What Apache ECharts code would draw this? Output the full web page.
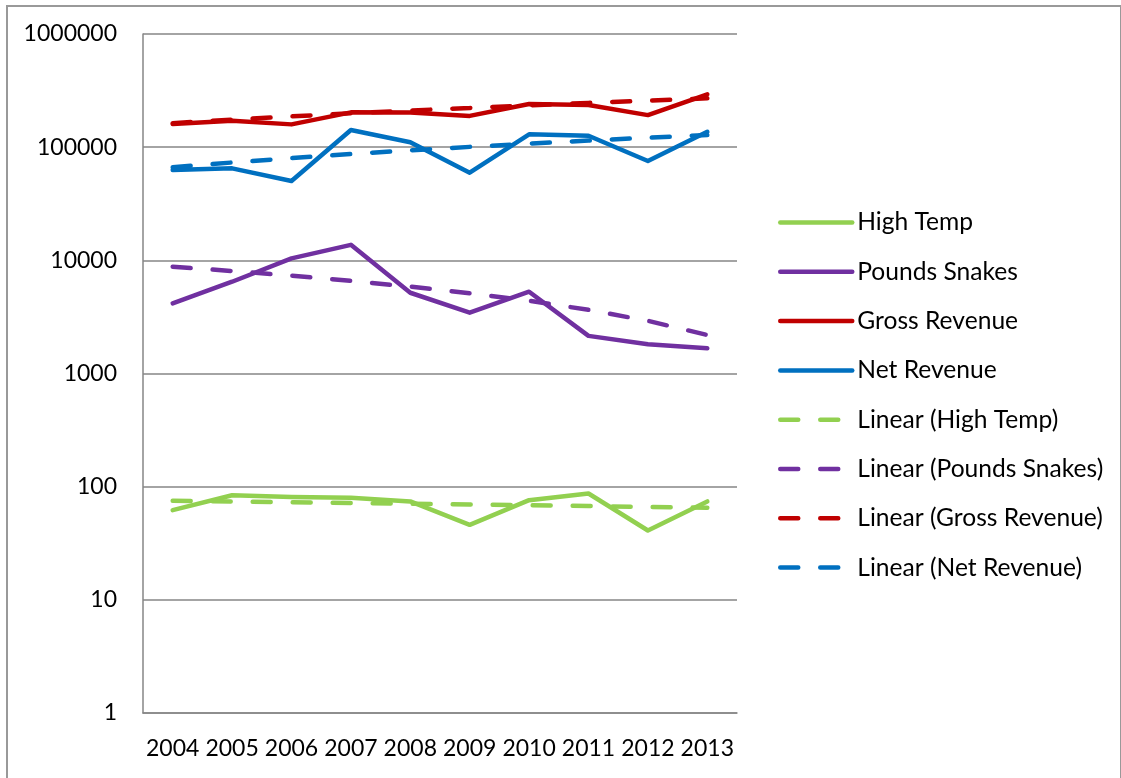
<!DOCTYPE html>
<html>
<head>
<meta charset="utf-8">
<title>Snakes chart</title>
<script src="https://cdn.jsdelivr.net/npm/echarts@6/dist/echarts.min.js"></script>
<style>
  body { margin: 0; background: #fff; }
  #wrap { position: relative; width: 1121px; height: 778px; overflow: hidden; }
  #frame { position: absolute; left: 6px; top: 5px; width: 1112px; height: 800px; border: 2px solid #999; }
  #chart { position: absolute; left: 0; top: 0; width: 1121px; height: 778px; }
</style>
</head>
<body>
<div id="wrap">
  <div id="frame"></div>
  <div id="chart"></div>
</div>
<script>
// categories
var years = ['2004', '2005', '2006', '2007', '2008', '2009', '2010', '2011', '2012', '2013'];

// series values
var highTemp      = [62, 84, 81, 80, 74, 46, 76, 87, 41, 74];
var poundsSnakes  = [4170, 6470, 10400, 13700, 5170, 3450, 5280, 2150, 1810, 1670];
var grossRevenue  = [160000, 171000, 159000, 203000, 202000, 189000, 241000, 236000, 192000, 293000];
var netRevenue    = [62800, 65000, 50200, 141800, 110400, 59500, 129900, 126200, 75400, 136900];

// trendlines
var trendHighTemp = [75, 73.9, 72.8, 71.7, 70.6, 69.6, 68.5, 67.4, 66.3, 65.2];
var trendSnakes   = [8790, 8050, 7320, 6590, 5850, 5120, 4390, 3650, 2920, 2190];
var trendGross    = [163000, 175000, 187000, 199000, 211000, 222000, 234000, 246000, 258000, 270000];
var trendNet      = [66400, 73200, 80100, 86900, 93800, 100600, 107500, 114300, 121200, 128000];

var green = '#92D050', purple = '#7030A0', red = '#C00000', blue = '#0070C0';
var font = 'Lato, "Open Sans", sans-serif';

function solid(name, color, data) {
  return {
    name: name, type: 'line', data: data, symbol: 'none', smooth: false,
    lineStyle: { color: color, width: 4.5, cap: 'round', join: 'round' },
    itemStyle: { color: color }
  };
}
function dashed(name, color, data) {
  return {
    name: name, type: 'line', data: data, symbol: 'none', smooth: false,
    lineStyle: { color: color, width: 4.5, type: [18, 22], cap: 'round' },
    itemStyle: { color: color }
  };
}

var chart = echarts.init(document.getElementById('chart'));
chart.setOption({
  animation: false,
  grid: { left: 143, right: 384, top: 34, bottom: 65, containLabel: false },
  legend: {
    orient: 'vertical',
    left: 778,
    top: 210,
    padding: 0,
    itemWidth: 72,
    itemHeight: 14,
    itemGap: 24.3,
    icon: 'inherit',
    itemStyle: { opacity: 0 }, // hide the dot in the middle of the legend line
    lineStyle: { width: 4.5, cap: 'round' },
    textStyle: { fontFamily: font, fontSize: 24.6, color: '#000', lineHeight: 24 },
    data: ['High Temp', 'Pounds Snakes', 'Gross Revenue', 'Net Revenue',
           'Linear (High Temp)', 'Linear (Pounds Snakes)', 'Linear (Gross Revenue)', 'Linear (Net Revenue)']
  },
  xAxis: {
    type: 'category',
    data: years,
    boundaryGap: true,
    axisLine: { lineStyle: { color: '#868686', width: 1.5 } },
    axisTick: { show: false },
    axisLabel: { color: '#000', fontFamily: font, fontSize: 23, margin: 24, interval: 0 }
  },
  yAxis: {
    type: 'log',
    logBase: 10,
    min: 1,
    max: 1000000,
    interval: 1,
    axisLine: { show: true, lineStyle: { color: '#868686', width: 1.5 } },
    axisTick: { show: false },
    splitLine: { lineStyle: { color: '#868686', width: 1.5 } },
    axisLabel: {
      color: '#000', fontFamily: font, fontSize: 23, margin: 26,
      formatter: function (v) { return String(Math.round(v)); }
    }
  },
  series: [
    solid('High Temp', green, highTemp),
    solid('Pounds Snakes', purple, poundsSnakes),
    solid('Gross Revenue', red, grossRevenue),
    solid('Net Revenue', blue, netRevenue),
    dashed('Linear (High Temp)', green, trendHighTemp),
    dashed('Linear (Pounds Snakes)', purple, trendSnakes),
    dashed('Linear (Gross Revenue)', red, trendGross),
    dashed('Linear (Net Revenue)', blue, trendNet)
  ]
});
</script>
</body>
</html>
